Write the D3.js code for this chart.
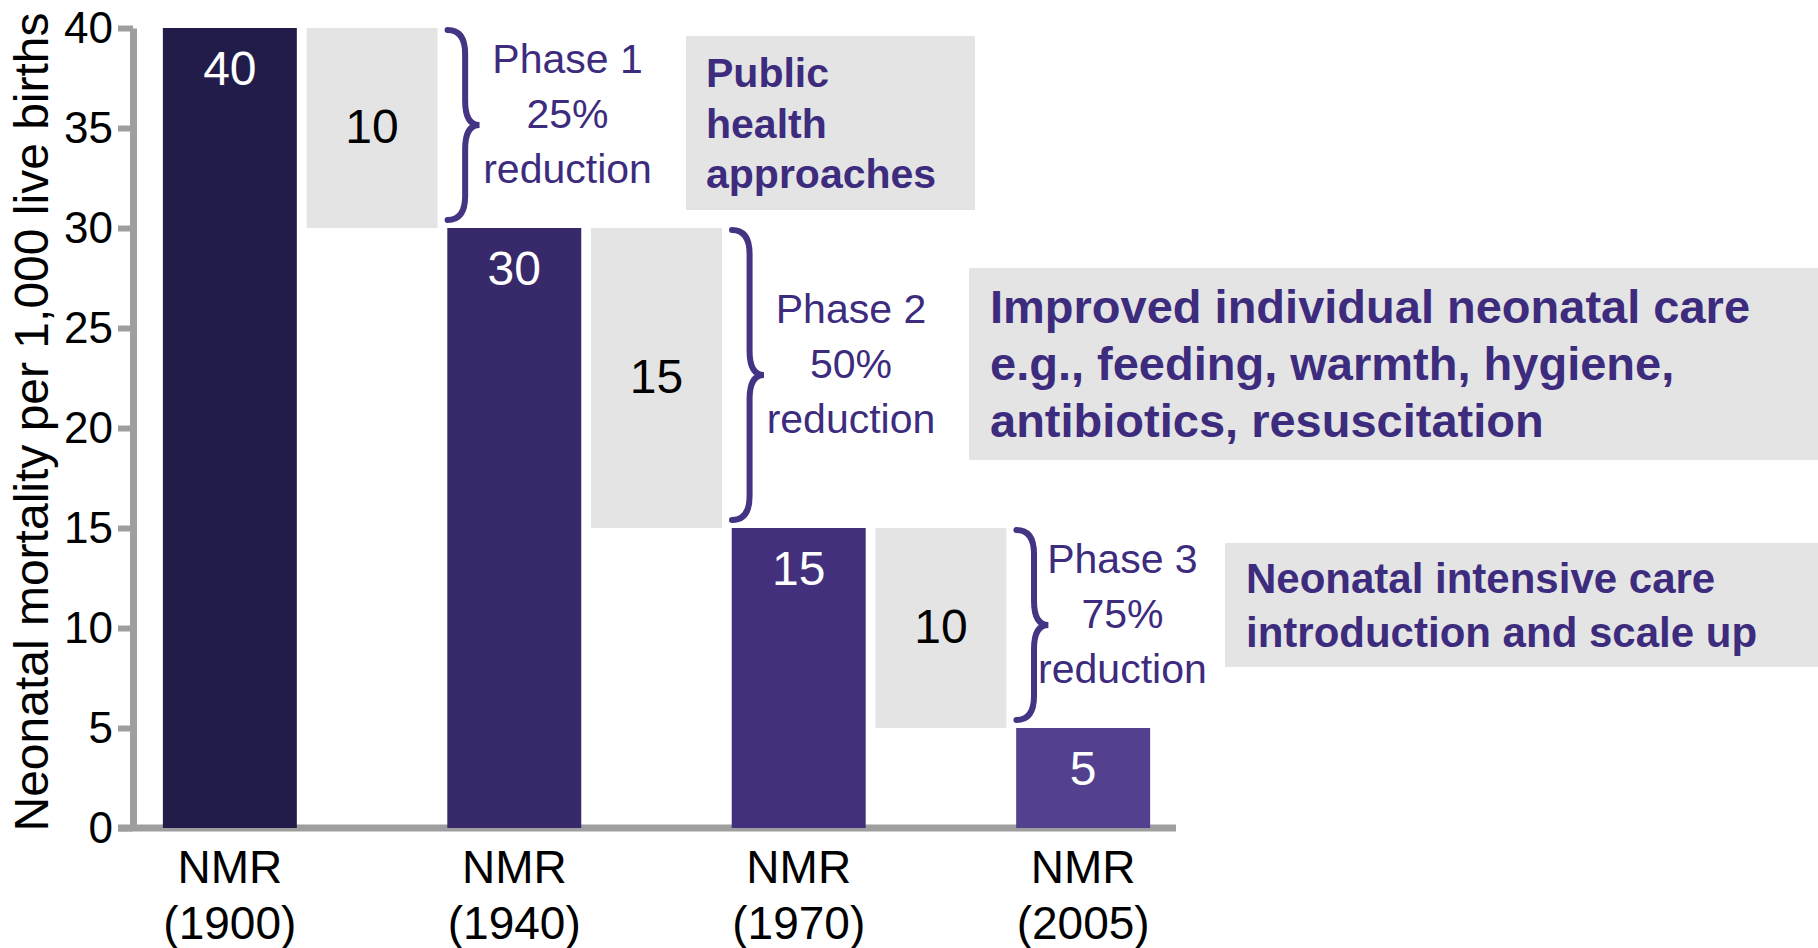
<!DOCTYPE html>
<html>
<head>
<meta charset="utf-8">
<script src="https://cdn.jsdelivr.net/npm/d3@7"></script>
<style>
body { margin: 0; background: #fff; }
svg { display: block; font-family: "Liberation Sans", Arial, Helvetica, sans-serif; }
</style>
</head>
<body>
<div id="chart"></div>
<script>
// Data
const categories = ["NMR (1900)", "NMR (1940)", "NMR (1970)", "NMR (2005)"];
const nmrValues = [40, 30, 15, 5];
const reductions = [10, 15, 10];
const phaseNames = ["Phase 1", "Phase 2", "Phase 3"];
const phasePercents = ["25%", "50%", "75%"];
const phaseNotes = [
    ["Public", "health", "approaches"],
    ["Improved individual neonatal care", "e.g., feeding, warmth, hygiene,", "antibiotics, resuscitation"],
    ["Neonatal intensive care", "introduction and scale up"]
];
const yTicks = [0, 5, 10, 15, 20, 25, 30, 35, 40];
const barColors = ["#221c4a", "#38296a", "#43307c", "#53418f"];

const width = 1818, height = 948;
const purple = "#3d2c7e";
const boxGray = "#e4e4e4";
const axisGray = "#9e9e9e";

const svg = d3.select("#chart")
    .append("svg")
    .attr("width", width)
    .attr("height", height);

// Scales
const x = d3.scaleBand()
    .domain(categories)
    .range([133, 1180])
    .paddingInner(0.529)
    .paddingOuter(0.105);

const y = d3.scaleLinear()
    .domain([0, 40])
    .range([828, 28]);

// Note boxes (drawn first, behind everything)
const noteLayout = [
    { x: 686, y: 36, w: 289, h: 174, tx: 706, ty: 87, lh: 50.5, fs: 41 },
    { x: 969, y: 268, w: 849, h: 192, tx: 990, ty: 323, lh: 57, fs: 47 },
    { x: 1225, y: 543, w: 593, h: 124, tx: 1246, ty: 593, lh: 54, fs: 42 }
];

phaseNotes.forEach((lines, i) => {
    const L = noteLayout[i];
    svg.append("rect")
        .attr("x", L.x).attr("y", L.y)
        .attr("width", L.w).attr("height", L.h)
        .attr("fill", boxGray);
    const t = svg.append("text")
        .attr("fill", purple)
        .style("font-size", L.fs + "px")
        .style("font-weight", "bold");
    lines.forEach((line, j) => {
        t.append("tspan")
            .attr("x", L.tx)
            .attr("y", L.ty + j * L.lh)
            .text(line);
    });
});

// Y axis
const yAxis = svg.append("g")
    .attr("transform", "translate(133,0)")
    .call(d3.axisLeft(y).tickValues(yTicks).tickSize(15).tickSizeOuter(0).tickPadding(5));

yAxis.select(".domain")
    .attr("stroke", axisGray)
    .attr("stroke-width", 7);
yAxis.selectAll(".tick line")
    .attr("stroke", axisGray)
    .attr("stroke-width", 6);
yAxis.selectAll(".tick text")
    .attr("fill", "#000")
    .style("font-size", "44px")
    .attr("dy", "0.33em");

// Y axis title
svg.append("text")
    .attr("transform", "translate(48,422) rotate(-90)")
    .attr("text-anchor", "middle")
    .style("font-size", "48px")
    .attr("fill", "#000")
    .text("Neonatal mortality per 1,000 live births");

// X axis
const xAxis = svg.append("g")
    .attr("transform", "translate(0,828)")
    .call(d3.axisBottom(x).tickSize(0).tickSizeOuter(0).tickFormat(""));

xAxis.select(".domain")
    .attr("stroke", axisGray)
    .attr("stroke-width", 7)
    .attr("d", "M118,0H1176");

xAxis.selectAll(".tick text").remove();
xAxis.selectAll(".tick").each(function (d) {
    const parts = d.split(" ");
    const t = d3.select(this).append("text")
        .attr("text-anchor", "middle")
        .attr("fill", "#000")
        .style("font-size", "46px");
    t.append("tspan").attr("x", 0).attr("y", 55).text(parts[0]);
    t.append("tspan").attr("x", 0).attr("y", 111).text(parts[1]);
});

// Bars
svg.selectAll(".bar")
    .data(nmrValues)
    .enter()
    .append("rect")
    .attr("class", "bar")
    .attr("x", (d, i) => x(categories[i]))
    .attr("y", d => y(d))
    .attr("width", x.bandwidth())
    .attr("height", d => y(0) - y(d))
    .attr("fill", (d, i) => barColors[i]);

svg.selectAll(".bar-label")
    .data(nmrValues)
    .enter()
    .append("text")
    .attr("class", "bar-label")
    .attr("x", (d, i) => x(categories[i]) + x.bandwidth() / 2)
    .attr("y", d => y(d) + 57)
    .attr("text-anchor", "middle")
    .attr("fill", "#fff")
    .style("font-size", "48px")
    .text(d => d);

// Reduction boxes
const gapCenter = i => (x(categories[i]) + x(categories[i + 1])) / 2 + x.bandwidth() / 2;
const gapW = x.bandwidth() - 3;

svg.selectAll(".gap")
    .data(reductions)
    .enter()
    .append("rect")
    .attr("class", "gap")
    .attr("x", (d, i) => gapCenter(i) - gapW / 2)
    .attr("y", (d, i) => y(nmrValues[i]))
    .attr("width", gapW)
    .attr("height", (d, i) => y(nmrValues[i + 1]) - y(nmrValues[i]))
    .attr("fill", boxGray);

svg.selectAll(".gap-label")
    .data(reductions)
    .enter()
    .append("text")
    .attr("class", "gap-label")
    .attr("x", (d, i) => gapCenter(i))
    .attr("y", (d, i) => (y(nmrValues[i]) + y(nmrValues[i + 1])) / 2 + 15)
    .attr("text-anchor", "middle")
    .attr("fill", "#000")
    .style("font-size", "48px")
    .text(d => d);

// Braces and phase labels
function bracePath(x0, yTop, yBot, w) {
    const xm = x0 + w * 0.55;
    const ymid = (yTop + yBot) / 2;
    const r = 24;
    return `M${x0},${yTop}Q${xm},${yTop} ${xm},${yTop + r}` +
        `L${xm},${ymid - r}Q${xm},${ymid} ${x0 + w},${ymid}` +
        `Q${xm},${ymid} ${xm},${ymid + r}` +
        `L${xm},${yBot - r}Q${xm},${yBot} ${x0},${yBot}`;
}

const phaseTextOffset = [120, 119, 106];

phaseNames.forEach((name, i) => {
    const bx = gapCenter(i) + gapW / 2 + 10;
    const yTop = y(nmrValues[i]) + 2;
    const yBot = y(nmrValues[i + 1]) - 8;
    svg.append("path")
        .attr("d", bracePath(bx, yTop, yBot, 32))
        .attr("fill", "none")
        .attr("stroke", "#453383")
        .attr("stroke-width", 6)
        .attr("stroke-linecap", "round");

    const cy = (y(nmrValues[i]) + y(nmrValues[i + 1])) / 2;
    const t = svg.append("text")
        .attr("text-anchor", "middle")
        .attr("fill", purple)
        .style("font-size", "41px");
    [name, phasePercents[i], "reduction"].forEach((line, j) => {
        t.append("tspan")
            .attr("x", bx + phaseTextOffset[i])
            .attr("y", cy + (j - 1) * 55)
            .text(line);
    });
});
</script>
</body>
</html>
